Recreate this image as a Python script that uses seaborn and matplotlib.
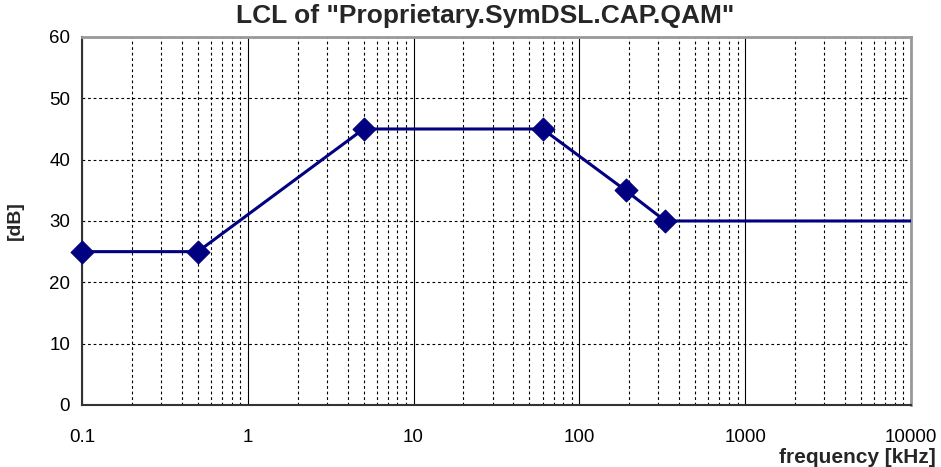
import matplotlib
matplotlib.use("Agg")
import matplotlib.pyplot as plt
import matplotlib.ticker as mticker
import seaborn as sns
import pandas as pd
import numpy as np

# Data
freq_khz = [0.1, 0.5, 5, 60, 190, 330, 10000]
lcl_db = [25, 25, 45, 45, 35, 30, 30]
marker_count = 6  # the last point only extends the line to the axis edge
x_tick_labels = ["0.1", "1", "10", "100", "1000", "10000"]
y_ticks = [0, 10, 20, 30, 40, 50, 60]

df = pd.DataFrame({"freq": freq_khz, "lcl": lcl_db})
df_marks = df.iloc[:marker_count]

sns.set_theme(style="white")
plt.rcParams["font.family"] = ["Liberation Sans", "DejaVu Sans"]

fig = plt.figure(figsize=(9.41, 4.67), dpi=100)
ax = fig.add_axes([0.0871, 0.1328, 0.968 - 0.0871, 0.9208 - 0.1328])

color = "#000080"
sns.lineplot(data=df, x="freq", y="lcl", ax=ax, color=color, linewidth=2.2,
             sort=False, estimator=None, zorder=3)
sns.scatterplot(data=df_marks, x="freq", y="lcl", ax=ax, color=color, marker="D",
                s=135, edgecolor=color, linewidth=0.8, zorder=4, clip_on=False)

ax.set_xscale("log")
ax.set_xlim(0.1, 10000)
ax.set_ylim(0, 60)

ax.xaxis.set_major_locator(mticker.FixedLocator([0.1, 1, 10, 100, 1000, 10000]))
ax.xaxis.set_major_formatter(mticker.FixedFormatter(x_tick_labels))
ax.xaxis.set_minor_locator(mticker.LogLocator(base=10, subs=np.arange(2, 10), numticks=100))
ax.xaxis.set_minor_formatter(mticker.NullFormatter())
ax.set_yticks(y_ticks)

# Grid
ax.grid(which="major", axis="x", color="black", linestyle="-", linewidth=0.8)
ax.grid(which="minor", axis="x", color="black", linestyle=(0, (2.5, 2.5)), linewidth=0.8)
ax.grid(which="major", axis="y", color="black", linestyle=(0, (2.5, 2.5)), linewidth=0.8)
ax.set_axisbelow(True)

ax.tick_params(axis="both", which="major", direction="inout", length=10, width=1,
               color="#333333", labelsize=13.5, labelcolor="black")
ax.tick_params(axis="x", which="major", pad=12)
ax.tick_params(axis="x", which="minor", length=0)

for side in ["left", "bottom"]:
    ax.spines[side].set_color("#333333")
    ax.spines[side].set_linewidth(1.5)
for side in ["top", "right"]:
    ax.spines[side].set_color("#999999")
    ax.spines[side].set_linewidth(2)
    ax.spines[side].set_visible(True)

ax.set_xlabel("")
ax.set_ylabel("[dB]", fontsize=14, fontweight="bold", labelpad=18)
fig.text(0.994, 0.0, "frequency [kHz]", ha="right", va="bottom",
         fontsize=15, fontweight="bold")
fig.text(0.516, 0.965, 'LCL of "Proprietary.SymDSL.CAP.QAM"', ha="center", va="center",
         fontsize=19, fontweight="bold")

fig.savefig("out.png", dpi=100)
